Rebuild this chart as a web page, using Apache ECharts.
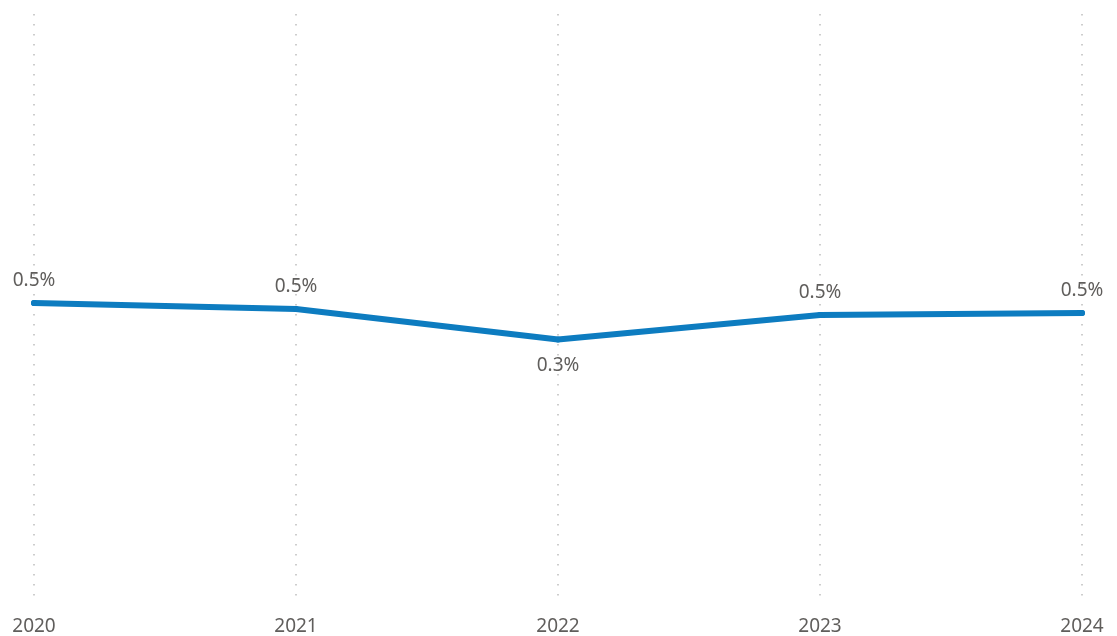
<!DOCTYPE html>
<html>
<head>
<meta charset="utf-8">
<script src="https://cdn.jsdelivr.net/npm/echarts@6/dist/echarts.min.js"></script>
<style>
  html, body { margin: 0; padding: 0; background: #ffffff; }
  #chart { width: 1117px; height: 636px; }
</style>
</head>
<body>
<div id="chart"></div>
<script>
// Yearly rate, in percent
const years = ['2020', '2021', '2022', '2023', '2024'];
const rates = [0.53, 0.50, 0.345, 0.47, 0.48];
// Points whose value label sits under the line
const labelsBelow = ['2022'];

const LINE_COLOR = '#0d7cc0';
const TEXT_COLOR = '#605e5c';
const FONT = '"Segoe UI", "Noto Sans", "Open Sans", sans-serif';

const seriesData = years.map((y, i) => {
  const item = { value: rates[i] };
  if (labelsBelow.includes(y)) {
    item.label = { position: 'bottom', distance: 14 };
  }
  return item;
});

const chart = echarts.init(document.getElementById('chart'), null, { renderer: 'canvas' });
chart.setOption({
  animation: false,
  backgroundColor: '#ffffff',
  grid: { left: 34, right: 35, top: 14, bottom: 32, containLabel: false },
  xAxis: {
    type: 'category',
    data: years,
    boundaryGap: false,
    axisLine: { show: false },
    axisTick: { show: false },
    axisLabel: {
      color: TEXT_COLOR,
      fontFamily: FONT,
      fontSize: 19,
      margin: 13
    },
    splitLine: {
      show: true,
      lineStyle: { color: '#bdbdbd', width: 1.5, type: [1.5, 8.5] }
    }
  },
  yAxis: {
    type: 'value',
    min: -1,
    max: 2,
    show: false,
    splitLine: { show: false }
  },
  series: [{
    type: 'line',
    data: seriesData,
    symbol: 'circle',
    symbolSize: 6,
    showSymbol: true,
    itemStyle: { color: LINE_COLOR },
    lineStyle: { color: LINE_COLOR, width: 6, cap: 'round', join: 'round' },
    label: {
      show: true,
      position: 'top',
      distance: 10,
      color: TEXT_COLOR,
      fontFamily: FONT,
      fontSize: 19,
      formatter: p => p.value.toFixed(1) + '%'
    }
  }]
});
</script>
</body>
</html>
